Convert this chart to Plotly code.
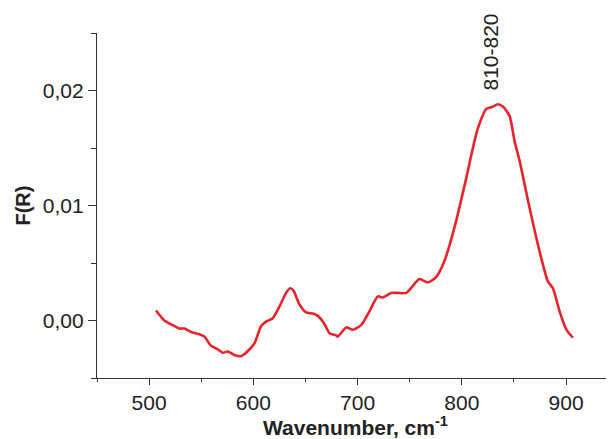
import plotly.graph_objects as go

wavenumber = [506.6, 514.6, 522.6, 529.0, 533.8, 540.2, 548.2, 553.0, 559.4, 565.8,
              570.6, 575.4, 581.8, 588.2, 593.0, 601.0, 607.4, 612.2, 618.6, 625.0,
              631.4, 635.3, 638.5, 644.2, 650.6, 657.0, 661.8, 668.2, 673.0, 679.5,
              681.0, 689.1, 695.4, 703.5, 711.4, 719.4, 724.2, 732.3, 738.6, 746.7,
              759.4, 767.4, 775.5, 783.4, 793.0, 804.3, 810.6, 815.4, 823.5, 829.8,
              834.6, 839.4, 845.8, 850.6, 855.4, 865.0, 874.6, 882.6, 887.4, 893.8,
              900.3, 906.6]
f_r = [0.00087, 0.0000, -0.0004, -0.0007, -0.0007, -0.0010, -0.0012, -0.0014, -0.0022, -0.0025,
       -0.0028, -0.0027, -0.0030, -0.0031, -0.0028, -0.0020, -0.0005, -0.0001, 0.0002, 0.0012,
       0.0024, 0.0028, 0.0026, 0.0014, 0.0007, 0.0006, 0.0004, -0.0003, -0.0011, -0.0013,
       -0.0014, -0.0006, -0.0008, -0.0004, 0.0008, 0.0021, 0.0020, 0.0024, 0.0024, 0.0024,
       0.0036, 0.0033, 0.0038, 0.0052, 0.0081, 0.0124, 0.0150, 0.0167, 0.0184, 0.0186,
       0.0188, 0.0186, 0.0178, 0.0156, 0.0139, 0.0098, 0.0060, 0.0034, 0.0028, 0.0008,
       -0.0008, -0.0015]

peak_label = "810-820"
peak_x = 828.0
peak_y = 0.0233
x_title = "<b>Wavenumber, cm<sup>-1</sup></b>"
y_title = "<b>F(R)</b>"

FONT = "Liberation Sans, Arial, sans-serif"

fig = go.Figure()
fig.add_trace(go.Scatter(x=wavenumber, y=f_r, mode="lines",
                         line=dict(color="#e8232b", width=2.6, shape="spline", smoothing=0.6),
                         showlegend=False))

fig.add_annotation(x=peak_x, y=peak_y, text=peak_label, showarrow=False, textangle=-90,
                   font=dict(family=FONT, size=21, color="#222"))
fig.add_annotation(x=0.5, y=-0.14, xref="paper", yref="paper", text=x_title, showarrow=False,
                   xanchor="center", yanchor="middle",
                   font=dict(family=FONT, size=21, color="#222"))
fig.add_annotation(x=-0.145, y=0.5, xref="paper", yref="paper", text=y_title, showarrow=False,
                   textangle=-90, xanchor="center", yanchor="middle",
                   font=dict(family=FONT, size=20, color="#222"))

axis_common = dict(showline=True, linecolor="#333", linewidth=1.2, ticks="outside",
                   tickcolor="#333", tickwidth=1.2, showgrid=False, zeroline=False,
                   automargin=False,
                   tickfont=dict(family=FONT, size=21, color="#222"))

# page body has an 8px default margin, so the figure is sized to fit the window
fig.update_layout(
    width=606, height=431,
    margin=dict(l=89, r=0, t=25, b=61),
    plot_bgcolor="white", paper_bgcolor="white",
    separators=",.",
    xaxis=dict(range=[450, 946], tick0=500, dtick=100, ticklen=6,
               minor=dict(dtick=50, tick0=450, ticklen=3, ticks="outside", tickcolor="#333", tickwidth=1.2),
               **axis_common),
    yaxis=dict(range=[-0.005, 0.025], tick0=0, dtick=0.01, tickformat=".2f", ticklen=8,
               minor=dict(dtick=0.005, ticklen=5, ticks="outside", tickcolor="#333", tickwidth=1.2),
               **axis_common),
)

fig.write_html("out.html")
